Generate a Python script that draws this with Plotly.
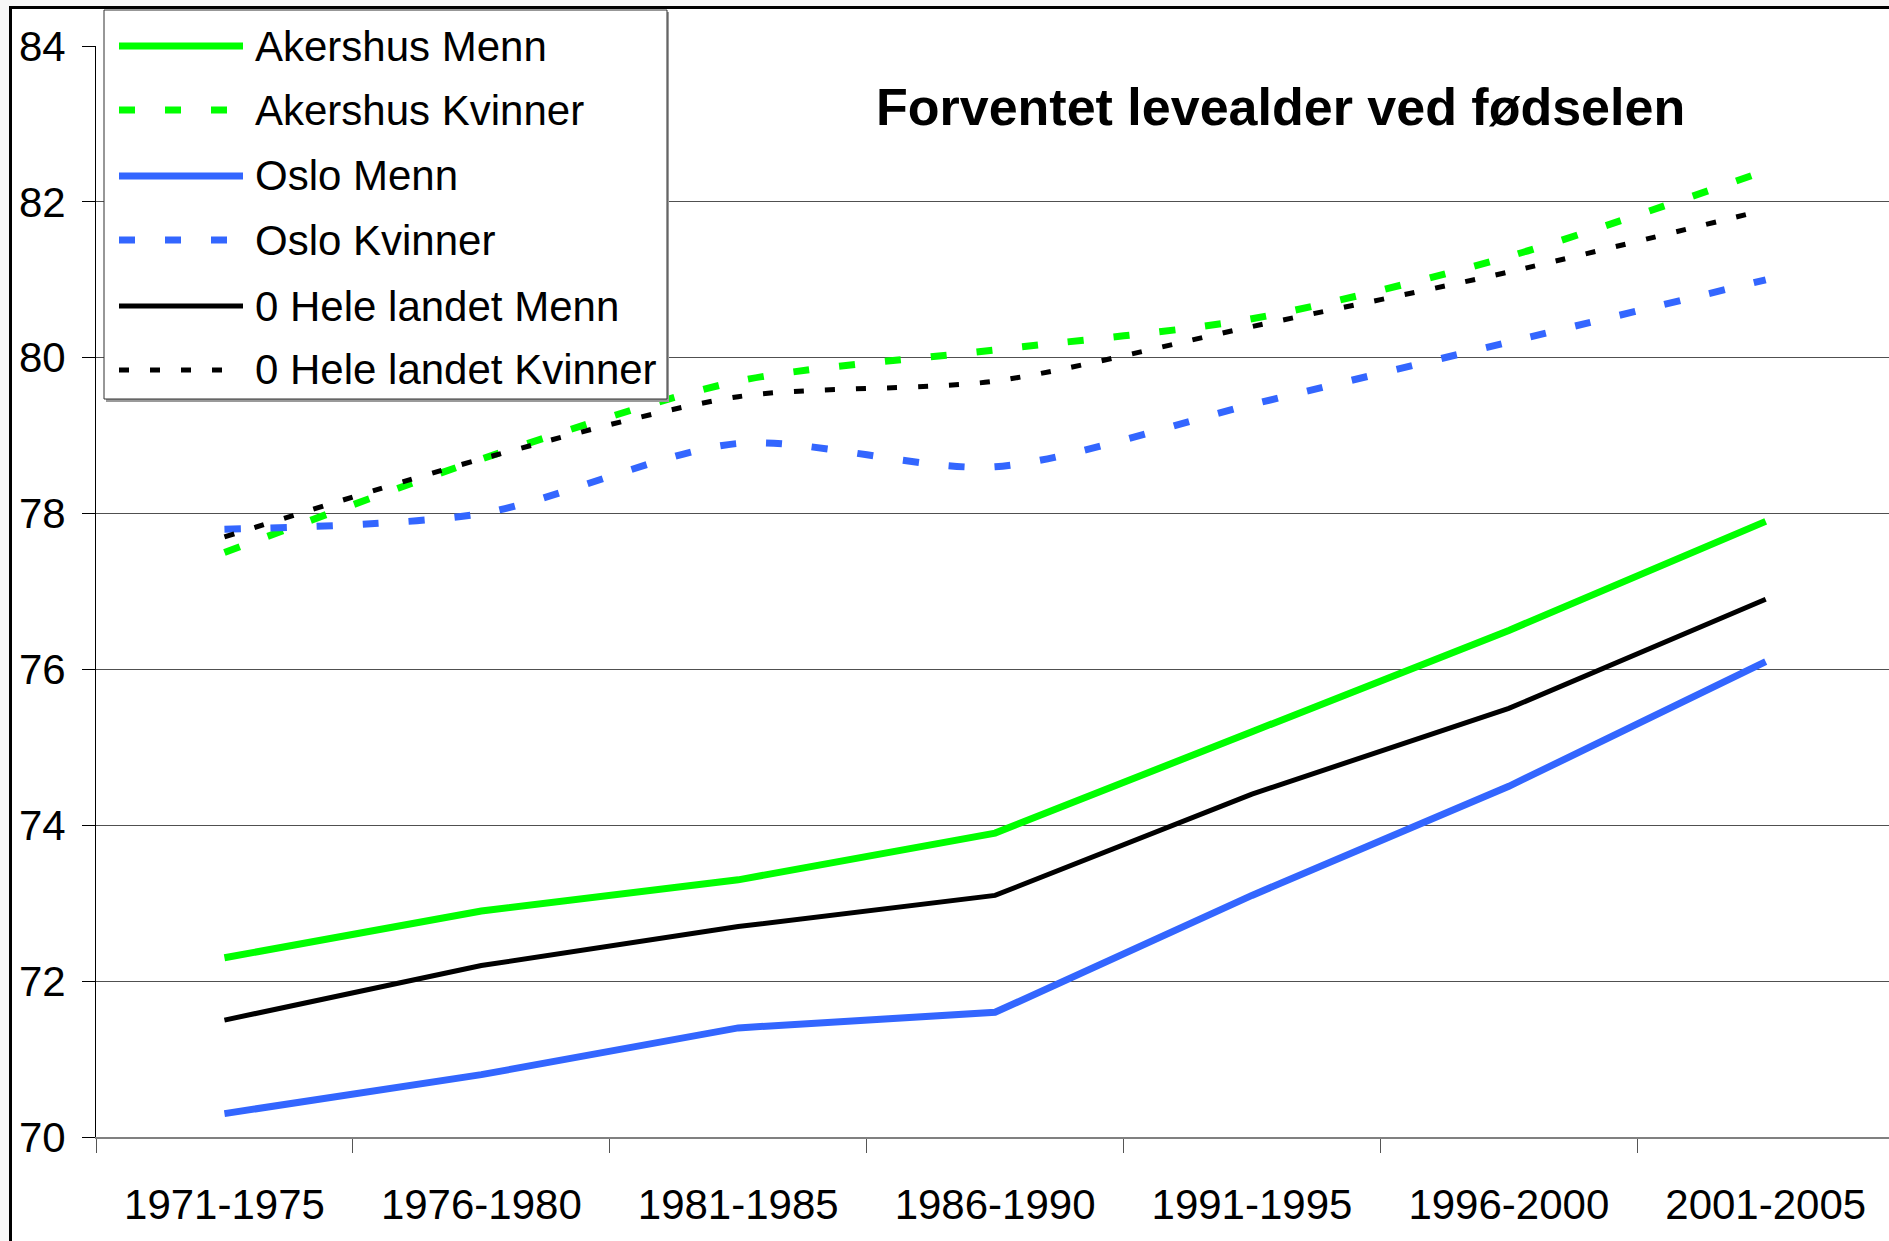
import plotly.graph_objects as go

# ------------------ data ------------------#
periods = ["1971-1975", "1976-1980", "1981-1985", "1986-1990",
           "1991-1995", "1996-2000", "2001-2005"]

akershus_menn = [72.3, 72.9, 73.3, 73.9, 75.2, 76.5, 77.9]
akershus_kvinner = [77.5, 78.7, 79.7, 80.1, 80.5, 81.3, 82.4]
oslo_menn = [70.3, 70.8, 71.4, 71.6, 73.1, 74.5, 76.1]
oslo_kvinner = [77.8, 78.0, 78.9, 78.6, 79.4, 80.2, 81.0]
landet_menn = [71.5, 72.2, 72.7, 73.1, 74.4, 75.5, 76.9]
landet_kvinner = [77.7, 78.7, 79.5, 79.7, 80.4, 81.1, 81.9]

series_names = ["Akershus Menn", "Akershus Kvinner", "Oslo Menn",
                "Oslo Kvinner", "0 Hele landet Menn", "0 Hele landet Kvinner"]
series_values = [akershus_menn, akershus_kvinner, oslo_menn,
                 oslo_kvinner, landet_menn, landet_kvinner]

title_text = "Forventet levealder ved fødselen"
y_ticks = [70, 72, 74, 76, 78, 80, 82, 84]

# ------------------ styles ------------------#
GREEN = "#00FF00"
BLUE = "#3366FF"
BLACK = "#000000"
FONT = "Liberation Sans, Arial, sans-serif"

styles = [
    dict(color=GREEN, width=7, dash="solid", shape="linear"),
    dict(color=GREEN, width=7, dash="16px,30px", shape="spline"),
    dict(color=BLUE, width=7, dash="solid", shape="linear"),
    dict(color=BLUE, width=7, dash="16px,30px", shape="spline"),
    dict(color=BLACK, width=5, dash="solid", shape="linear"),
    dict(color=BLACK, width=5, dash="10px,21px", shape="spline"),
]

# plot area in pixels
W_FIG, H_FIG = 1889, 1241
L, R, T, B = 96, 1889, 46, 1137


def fx(px):
    return (px - L) / (R - L)


def fy(py):
    return (B - py) / (B - T)


fig = go.Figure()
for name, vals, st in zip(series_names, series_values, styles):
    fig.add_trace(go.Scatter(
        x=periods, y=vals, name=name, mode="lines",
        line=dict(color=st["color"], width=st["width"], dash=st["dash"],
                  shape=st["shape"], smoothing=0.8),
        showlegend=False))

shapes = []
annotations = []

# outer chart frame
shapes.append(dict(type="rect", xref="paper", yref="paper",
                   x0=fx(10.5), x1=fx(1905), y0=fy(1260), y1=fy(7.5),
                   line=dict(color=BLACK, width=3), fillcolor="white",
                   layer="below"))

# legend box
shapes.append(dict(type="rect", xref="paper", yref="paper",
                   x0=fx(106), x1=fx(669), y0=fy(402), y1=fy(12),
                   line=dict(width=0), fillcolor="#9a9a9a", layer="above"))
shapes.append(dict(type="rect", xref="paper", yref="paper",
                   x0=fx(104), x1=fx(667), y0=fy(399), y1=fy(10),
                   line=dict(color="#303030", width=1), fillcolor="white",
                   layer="above"))

row_y = [46, 110, 176, 240, 306, 370]
for name, st, ry in zip(series_names, styles, row_y):
    shapes.append(dict(type="line", xref="paper", yref="paper",
                       x0=fx(119), x1=fx(243), y0=fy(ry), y1=fy(ry),
                       line=dict(color=st["color"], width=st["width"],
                                 dash=st["dash"]),
                       layer="above"))
    annotations.append(dict(text=name, xref="paper", yref="paper",
                            x=fx(253), y=fy(ry), xanchor="left",
                            yanchor="middle", showarrow=False,
                            font=dict(family=FONT, size=42, color=BLACK)))

annotations.append(dict(text="<b>" + title_text + "</b>", xref="paper",
                        yref="paper", x=fx(1280), y=fy(107),
                        xanchor="center", yanchor="middle", showarrow=False,
                        font=dict(family=FONT, size=52, color=BLACK)))

fig.update_layout(
    width=W_FIG, height=H_FIG,
    margin=dict(l=L, r=W_FIG - R, t=T, b=H_FIG - B, pad=0),
    paper_bgcolor="#f7f7f7",
    plot_bgcolor="rgba(0,0,0,0)",
    font=dict(family=FONT, size=42, color=BLACK),
    shapes=shapes,
    annotations=annotations,
    showlegend=False,
)
fig.update_xaxes(
    type="category", range=[-0.5, 6.48], tickson="boundaries",
    ticks="outside", ticklen=14, tickcolor="#555555", tickwidth=1,
    showline=True, linecolor="#808080", linewidth=2,
    showgrid=False, zeroline=False, ticklabelstandoff=30,
    tickfont=dict(family=FONT, size=42, color=BLACK))
fig.update_yaxes(
    range=[70, 84], tickvals=y_ticks, ticks="outside", ticklen=13,
    tickcolor=BLACK, tickwidth=1, showline=True, linecolor=BLACK,
    linewidth=1, showgrid=True, gridcolor="#505050", gridwidth=1,
    zeroline=False, ticklabelstandoff=8,
    tickfont=dict(family=FONT, size=42, color=BLACK))

fig.write_html("out.html", config={"displayModeBar": False},
               post_script="document.body.style.margin='0';"
                           "document.body.style.overflow='hidden';")
